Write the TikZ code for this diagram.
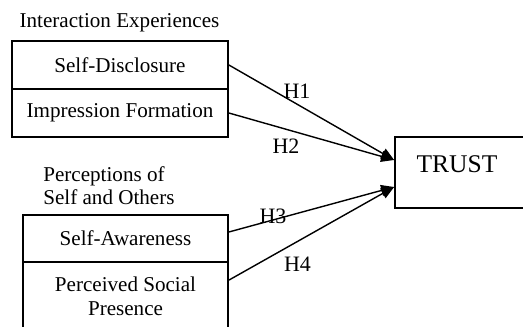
\documentclass[tikz,border=0pt]{standalone}
\usepackage{fontspec}
\setmainfont{Liberation Serif}
\usetikzlibrary{arrows.meta,positioning,calc}

\begin{document}
\begin{tikzpicture}[x=0.2mm,y=-0.2mm,
  conceptbox/.style={draw,line width=1pt,inner sep=0pt,align=center,
    font=\fontsize{12}{13.6}\selectfont},
  grouptitle/.style={inner sep=0pt,align=left,font=\fontsize{12}{13.6}\selectfont},
  hyplink/.style={line width=0.8pt,-{Triangle[length=2.6mm,width=2.2mm]}},
  hyplabel/.style={inner sep=0pt,font=\fontsize{12.5}{14}\selectfont}
]
  \useasboundingbox (0,0) rectangle (523,327);

  % interaction experiences
  \node[grouptitle,anchor=base] (expttl) at (119.5,27.5) {Interaction Experiences};
  \node[conceptbox,minimum width=43.2mm,minimum height=9.6mm] (sd) at (120,65) {Self-Disclosure};
  \node[conceptbox,minimum width=43.2mm,minimum height=9.6mm] (imp) at (120,113) {Impression Formation};

  % perceptions of self and others
  \node[grouptitle,anchor=base west] (perttl) at (43,205) {Perceptions of\\Self and Others};
  \node[conceptbox,minimum width=41mm,minimum height=9.4mm] (sa) at (125.5,238.5) {Self-Awareness};
  \node[conceptbox,minimum width=41mm,minimum height=15.6mm,text depth=2mm] (psp) at (125.5,301) {Perceived Social\\Presence};

  % outcome
  \node[conceptbox,minimum width=28mm,minimum height=14.2mm,text depth=3.4mm,
    font=\fontsize{14.5}{17}\selectfont] (trust) at (465,172.5) {TRUST\hspace*{3.2mm}};

  \coordinate (tin1) at ($(trust.west)+(0,-12.5)$);
  \coordinate (tin2) at ($(trust.west)+(0,14.5)$);

  \draw[hyplink] (sd.east) -- (tin1);
  \draw[hyplink] (imp.east) -- (tin1);
  \draw[hyplink] ($(sa.east)+(0,-6.5)$) -- (tin2);
  \draw[hyplink] ($(psp.north east)+(0,19)$) -- (tin2);

  \node[hyplabel] (h1) at (297,91.5) {H1};
  \node[hyplabel] (h2) at (286,146) {H2};
  \node[hyplabel] (h3) at (273,216.5) {H3};
  \node[hyplabel] (h4) at (297.5,264) {H4};
\end{tikzpicture}
\end{document}
